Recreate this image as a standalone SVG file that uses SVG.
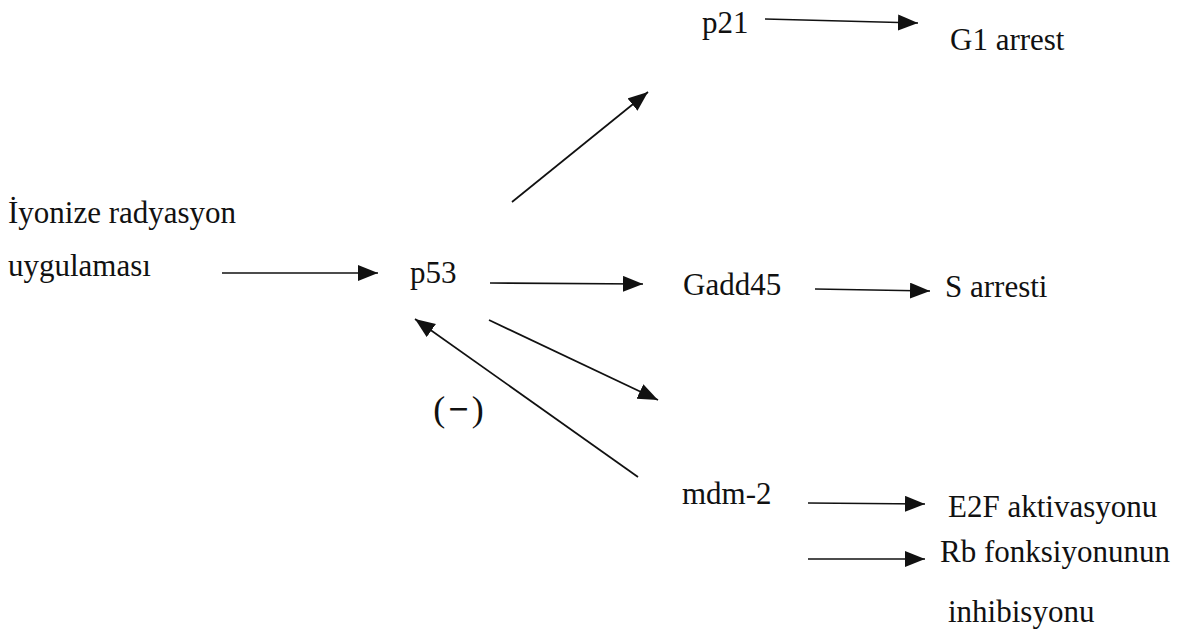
<svg xmlns="http://www.w3.org/2000/svg" width="1187" height="637" viewBox="0 0 1187 637">
  <style>
    .t { font-family: "Liberation Serif", "Times New Roman", Times, "DejaVu Serif", serif; font-size: 31px; fill: #111; }
    .c { stroke: #111; stroke-width: 1.7; fill: none; marker-end: url(#ah); }
  </style>
  <defs>
    <marker id="ah" markerUnits="userSpaceOnUse" markerWidth="22" markerHeight="18" refX="20" refY="8" orient="auto">
      <path d="M0,0 L20,8 L0,16 z" fill="#111"/>
    </marker>
  </defs>
  <rect width="1187" height="637" fill="#fff"/>
  <g id="connectors">
    <line class="c" x1="222" y1="273" x2="378" y2="273"/>
    <line class="c" x1="512" y1="202" x2="648" y2="92"/>
    <line class="c" x1="765" y1="19" x2="918" y2="23"/>
    <line class="c" x1="490" y1="283" x2="643" y2="284"/>
    <line class="c" x1="815" y1="289" x2="930" y2="291"/>
    <line class="c" x1="489" y1="320" x2="658" y2="400"/>
    <line class="c" x1="638" y1="477" x2="415" y2="319"/>
    <line class="c" x1="808" y1="503" x2="925" y2="504"/>
    <line class="c" x1="808" y1="559" x2="925" y2="559"/>
  </g>
  <g id="n-radiation"><text class="t" x="8" y="223">İyonize radyasyon</text><text class="t" x="8" y="276">uygulaması</text></g>
  <g id="n-p53"><text class="t" x="410" y="283">p53</text></g>
  <g id="n-p21"><text class="t" x="702" y="33">p21</text></g>
  <g id="n-g1"><text class="t" x="950" y="50">G1 arrest</text></g>
  <g id="n-gadd45"><text class="t" x="683" y="295">Gadd45</text></g>
  <g id="n-s"><text class="t" x="945" y="297">S arresti</text></g>
  <g id="n-minus"><text class="t" x="460" y="421" text-anchor="middle" style="font-size:36px; letter-spacing:3px">(<tspan font-weight="bold">−</tspan>)</text></g>
  <g id="n-mdm2"><text class="t" x="682" y="504">mdm-2</text></g>
  <g id="n-e2f"><text class="t" x="948" y="517">E2F aktivasyonu</text></g>
  <g id="n-rb"><text class="t" x="940" y="562">Rb fonksiyonunun</text><text class="t" x="948" y="622">inhibisyonu</text></g>
</svg>
